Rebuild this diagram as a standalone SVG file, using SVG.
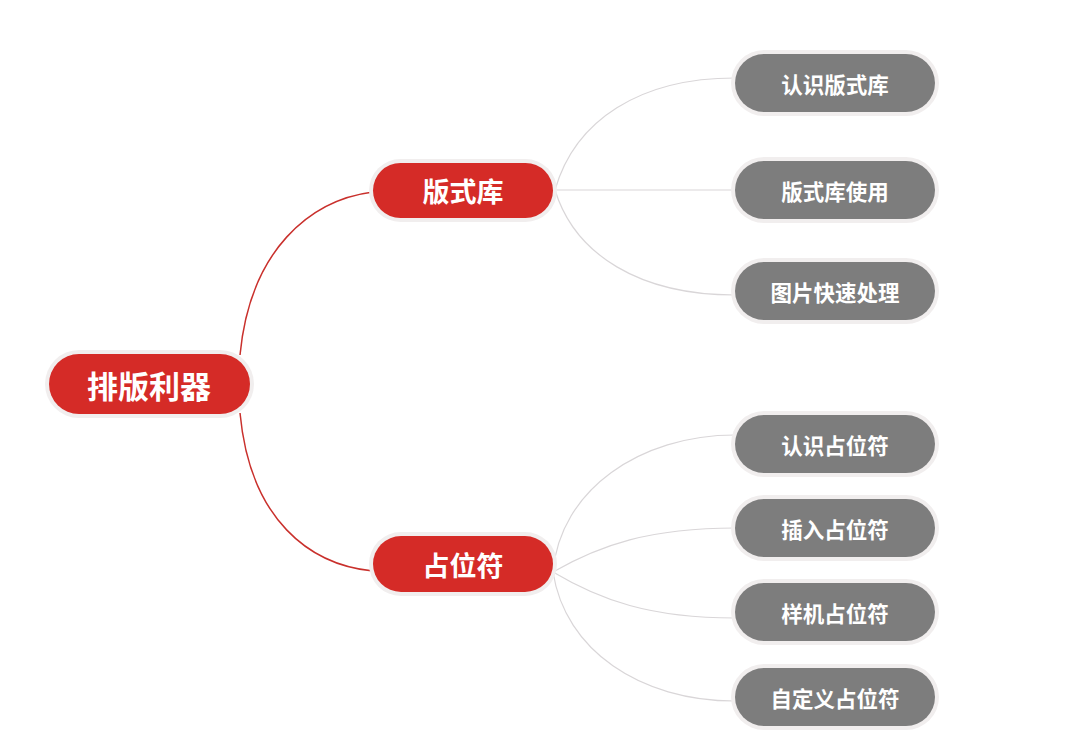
<svg xmlns="http://www.w3.org/2000/svg" width="1080" height="754" viewBox="0 0 1080 754">
<style>
.halo{fill:#f1eeee}
.red{fill:#d52b27}
.gray{fill:#7d7d7d}
.t{fill:#ffffff;font-family:"Noto Sans CJK SC","Noto Sans",sans-serif;font-weight:bold;text-anchor:middle;dominant-baseline:central}
.c1{fill:none;stroke:#c9302c;stroke-width:1.5}
.c2{fill:none;stroke:#d9d6d8;stroke-width:1.2}
</style>
<rect width="1080" height="754" fill="#ffffff"/>
<g id="connectors">
<path class="c1" d="M240,355 C250,250 310,200 373,192"/>
<path class="c1" d="M240,413 C250,520 310,565 373,571"/>
<path class="c2" d="M555,190 C575,120 640,78 735,78"/>
<path class="c2" d="M555,190 L735,190"/>
<path class="c2" d="M555,190 C575,255 640,295 735,295"/>
<path class="c2" d="M553,572 C560,490 640,435 735,435"/>
<path class="c2" d="M553,572 C600,545 650,528 735,528"/>
<path class="c2" d="M553,572 C600,600 650,618 735,618"/>
<path class="c2" d="M553,572 C565,650 640,701 735,701"/>
</g>
<g id="root">
<rect class="halo" x="45" y="350" width="209" height="68" rx="34"/>
<rect class="red" x="49" y="354" width="201" height="60" rx="30"/>
<text class="t" x="149" y="384" font-size="31">排版利器</text>
</g>
<g id="n-banshiku">
<rect class="halo" x="369" y="159" width="188" height="63" rx="31.5"/>
<rect class="red" x="373" y="163" width="180" height="55" rx="27.5"/>
<text class="t" x="463" y="190" font-size="27">版式库</text>
</g>
<g id="n-zhanweifu">
<rect class="halo" x="369" y="532" width="188" height="64" rx="32"/>
<rect class="red" x="373" y="536" width="180" height="56" rx="28"/>
<text class="t" x="463" y="564" font-size="27">占位符</text>
</g>
<g id="g1">
<rect class="halo" x="731" y="50" width="208" height="66" rx="33"/>
<rect class="gray" x="735" y="54" width="200" height="58" rx="29"/>
<text class="t" x="835" y="83" font-size="21.5">认识版式库</text>
</g>
<g id="g2">
<rect class="halo" x="731" y="157" width="208" height="66" rx="33"/>
<rect class="gray" x="735" y="161" width="200" height="58" rx="29"/>
<text class="t" x="835" y="190" font-size="21.5">版式库使用</text>
</g>
<g id="g3">
<rect class="halo" x="731" y="258" width="208" height="66" rx="33"/>
<rect class="gray" x="735" y="262" width="200" height="58" rx="29"/>
<text class="t" x="835" y="291" font-size="21.5">图片快速处理</text>
</g>
<g id="g4">
<rect class="halo" x="731" y="411" width="208" height="66" rx="33"/>
<rect class="gray" x="735" y="415" width="200" height="58" rx="29"/>
<text class="t" x="835" y="444" font-size="21.5">认识占位符</text>
</g>
<g id="g5">
<rect class="halo" x="731" y="495" width="208" height="66" rx="33"/>
<rect class="gray" x="735" y="499" width="200" height="58" rx="29"/>
<text class="t" x="835" y="528" font-size="21.5">插入占位符</text>
</g>
<g id="g6">
<rect class="halo" x="731" y="579" width="208" height="66" rx="33"/>
<rect class="gray" x="735" y="583" width="200" height="58" rx="29"/>
<text class="t" x="835" y="612" font-size="21.5">样机占位符</text>
</g>
<g id="g7">
<rect class="halo" x="731" y="664" width="208" height="66" rx="33"/>
<rect class="gray" x="735" y="668" width="200" height="58" rx="29"/>
<text class="t" x="835" y="697" font-size="21.5">自定义占位符</text>
</g>
</svg>
